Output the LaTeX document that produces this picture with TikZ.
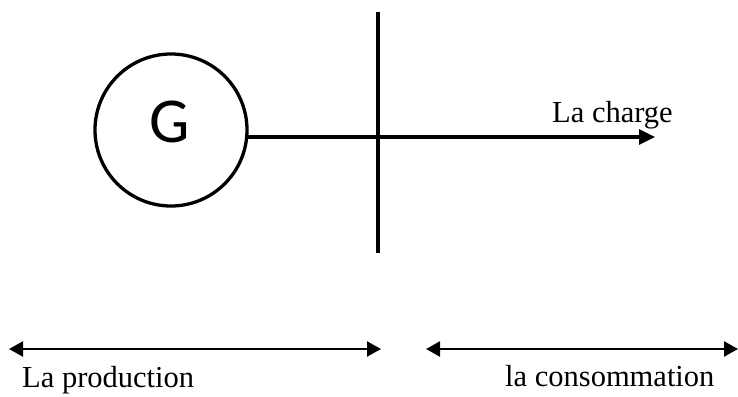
\documentclass[tikz,border=0pt]{standalone}
\usepackage{fontspec}
\setmainfont{Liberation Serif}
\newfontfamily\gfont{Carlito}
\usetikzlibrary{arrows.meta}
\begin{document}
\begin{tikzpicture}[x=1pt,y=-1pt,
  thickline/.style={line width=3.3pt},
  dimline/.style={line width=2.2pt,{Triangle[length=14pt,width=15pt]}-{Triangle[length=14pt,width=15pt]}},
  lbl/.style={font=\fontsize{30.5}{36}\selectfont,inner sep=0pt,anchor=base west}]
\useasboundingbox (0,0) rectangle (738,396);
\node[circle,draw,thickline,minimum size=152pt,inner sep=0pt] (gen) at (171,130) {};
\node[font=\gfont\fontsize{64}{66}\selectfont,inner sep=0pt] (g) at (170,122) {G};
\coordinate (bt) at (378,12);
\coordinate (bb) at (378,253);
\draw[thickline] (bt) -- (bb);
\coordinate (hs) at (247,137);
\coordinate (he) at (655,137);
\draw[thickline,-{Triangle[length=16pt,width=15pt]}] (hs) -- (he);
\node[lbl] (charge) at (552,122) {La charge};
\coordinate (pl) at (9,349);
\coordinate (pr) at (381,349);
\draw[dimline] (pl) -- (pr);
\coordinate (cl) at (426,349);
\coordinate (cr) at (738,349);
\draw[dimline] (cl) -- (cr);
\node[lbl] (prod) at (22,387) {La production};
\node[lbl] (cons) at (505,386) {la consommation};
\end{tikzpicture}
\end{document}
